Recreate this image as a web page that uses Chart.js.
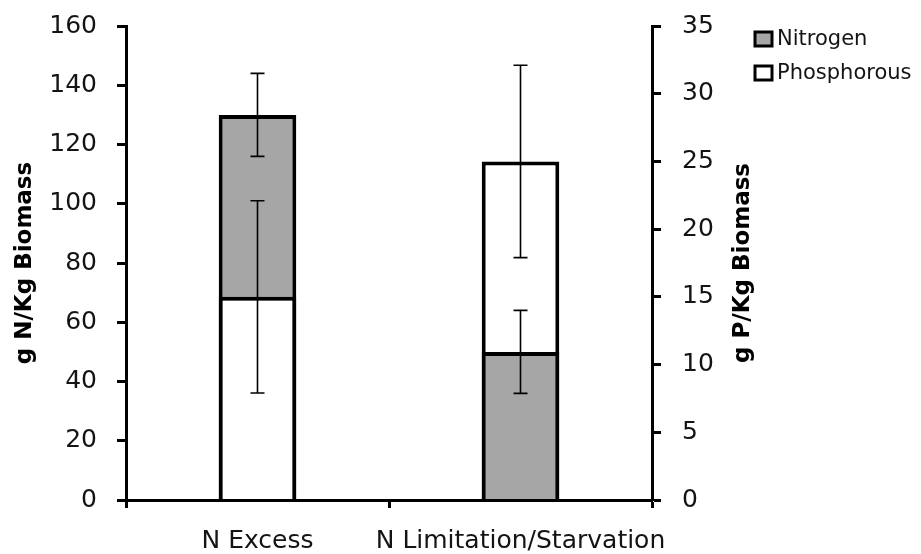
<!DOCTYPE html>
<html>
<head>
<meta charset="utf-8">
<script src="https://cdn.jsdelivr.net/npm/chart.js@4.4.1/dist/chart.umd.min.js"></script>
<style>
  html, body { margin: 0; padding: 0; background: #ffffff; }
  #wrap { width: 921px; height: 554px; position: relative; }
</style>
</head>
<body>
<div id="wrap"><canvas id="c" width="921" height="554"></canvas></div>
<script>
// ---- data ----
const categories = ['N Excess', 'N Limitation/Starvation'];
const nitrogen = [130, 50];
const nitrogenErr = [14, 14];
const phosphorous = [15, 25];
const phosphorousErr = [7.1, 7.1];
const leftTicks = [0, 20, 40, 60, 80, 100, 120, 140, 160];
const rightTicks = [0, 5, 10, 15, 20, 25, 30, 35];
const seriesNames = ['Nitrogen', 'Phosphorous'];
const leftTitle = 'g N/Kg Biomass';
const rightTitle = 'g P/Kg Biomass';

const N_MAX = 160, P_MAX = 35;
const GRAY = '#a6a6a6';
const FONT = '"DejaVu Sans", sans-serif';
const TXT = '#141414';

// which series is taller (drawn behind) per category
const nBehind = nitrogen.map((v, i) => v / N_MAX >= phosphorous[i] / P_MAX);

function mk(label, data, axis, color, order) {
  return {
    label, data, yAxisID: axis,
    backgroundColor: color, borderColor: '#000', borderWidth: 4,
    grouped: false, order,
    categoryPercentage: 1, barPercentage: 0.295
  };
}

const datasets = [
  mk('Nitrogen', nitrogen.map((v, i) => nBehind[i] ? v : null), 'y', GRAY, 2),
  mk('Phosphorous', phosphorous.map((v, i) => nBehind[i] ? null : v), 'y1', '#ffffff', 2),
  mk('Nitrogen', nitrogen.map((v, i) => nBehind[i] ? null : v), 'y', GRAY, 1),
  mk('Phosphorous', phosphorous.map((v, i) => nBehind[i] ? v : null), 'y1', '#ffffff', 1)
];

const errorBars = {
  id: 'errorBars',
  afterDatasetsDraw(chart) {
    const ctx = chart.ctx, xs = chart.scales.x;
    const series = [
      { vals: nitrogen, errs: nitrogenErr, scale: chart.scales.y },
      { vals: phosphorous, errs: phosphorousErr, scale: chart.scales.y1 }
    ];
    ctx.save();
    ctx.strokeStyle = '#000';
    ctx.lineWidth = 1.6;
    series.forEach(s => {
      s.vals.forEach((v, i) => {
        const x = xs.getPixelForValue(i);
        const yt = s.scale.getPixelForValue(v + s.errs[i]);
        const yb = s.scale.getPixelForValue(v - s.errs[i]);
        ctx.beginPath();
        ctx.moveTo(x, yt); ctx.lineTo(x, yb);
        ctx.moveTo(x - 7, yt); ctx.lineTo(x + 7, yt);
        ctx.moveTo(x - 7, yb); ctx.lineTo(x + 7, yb);
        ctx.stroke();
      });
    });
    ctx.restore();
  }
};

const extras = {
  id: 'extras',
  afterDraw(chart) {
    const ctx = chart.ctx, ca = chart.chartArea;
    const midY = (ca.top + ca.bottom) / 2;
    ctx.save();
    ctx.fillStyle = '#000';
    ctx.font = 'bold 23px ' + FONT;
    ctx.textAlign = 'center';
    ctx.textBaseline = 'middle';
    [[25, leftTitle], [743, rightTitle]].forEach(([x, t]) => {
      ctx.save();
      ctx.translate(x, midY);
      ctx.rotate(-Math.PI / 2);
      ctx.fillText(t, 0, 0);
      ctx.restore();
    });
    // legend
    const fills = [GRAY, '#ffffff'];
    const rows = [39, 73];
    ctx.font = '21px ' + FONT;
    ctx.textAlign = 'left';
    seriesNames.forEach((name, i) => {
      ctx.fillStyle = fills[i];
      ctx.fillRect(755, rows[i] - 7, 17, 14);
      ctx.strokeStyle = '#000';
      ctx.lineWidth = 3;
      ctx.strokeRect(755, rows[i] - 7, 17, 14);
      ctx.fillStyle = TXT;
      ctx.fillText(name, 777, rows[i] + 1);
    });
    ctx.restore();
  }
};

function fixV(width) {
  return function (s) { s.width = width; s.paddingTop = 0; s.paddingBottom = 0; };
}

new Chart(document.getElementById('c'), {
  type: 'bar',
  data: { labels: categories, datasets },
  options: {
    responsive: false,
    animation: false,
    layout: { padding: { top: 26, left: 0, right: 0, bottom: 0 } },
    plugins: { legend: { display: false }, tooltip: { enabled: false } },
    scales: {
      x: {
        grid: { drawOnChartArea: false, tickLength: 8, tickColor: '#000', tickWidth: 3, offset: true },
        border: { color: '#000', width: 3, z: 1 },
        ticks: { color: TXT, font: { family: FONT, size: 25 }, maxRotation: 0, minRotation: 0, autoSkip: false, padding: 18 },
        afterFit(s) { s.height = 54; s.paddingLeft = 0; s.paddingRight = 0; }
      },
      y: {
        type: 'linear', position: 'left', min: 0, max: N_MAX,
        grid: { drawOnChartArea: false, tickLength: 9, tickColor: '#000', tickWidth: 3 },
        border: { color: '#000', width: 3, z: 1 },
        afterBuildTicks(s) { s.ticks = leftTicks.map(v => ({ value: v })); },
        ticks: { color: TXT, font: { family: FONT, size: 25 }, padding: 20 },
        afterFit: fixV(126)
      },
      y1: {
        type: 'linear', position: 'right', min: 0, max: P_MAX,
        grid: { drawOnChartArea: false, tickLength: 9, tickColor: '#000', tickWidth: 3 },
        border: { color: '#000', width: 3, z: 1 },
        afterBuildTicks(s) { s.ticks = rightTicks.map(v => ({ value: v })); },
        ticks: { color: TXT, font: { family: FONT, size: 25 }, padding: 21 },
        afterFit: fixV(921 - 652)
      }
    }
  },
  plugins: [errorBars, extras]
});
</script>
</body>
</html>
